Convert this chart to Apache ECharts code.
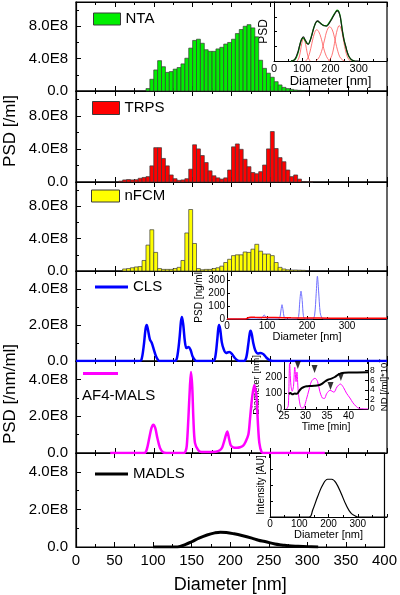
<!DOCTYPE html>
<html><head><meta charset="utf-8">
<script src="https://cdn.jsdelivr.net/npm/echarts@6/dist/echarts.min.js"></script>
<style>html,body{margin:0;padding:0;background:#fff}#c{width:400px;height:595px}</style>
</head><body><div id="c"></div>
<script>
// ---------- DATA ----------
const binEdges = [50,55,60,65,70,75,80,85,90,95,100,105,110,115,120,125,130,135,140,145,150,155,160,165,170,175,180,185,190,195,200,205,210,215,220,225,230,235,240,245,250,255,260,265,270,275,280,285,290,295,300,305,310];
// values in units of 1E8 /ml
const ntaValues = [null,null,null,null,null,null,null,null, 0.3,1.45,2.6,3.75,3.0,2.3,2.4,2.7,2.9,3.35, 4.05,5.3,6.25,6.4,5.9,5.1,4.9,4.9,5.2,5.4, 5.8,6.0,6.4,7.1,7.6,8.0,8.2,7.8,6.7,3.8, 2.8,2.2,1.7,1.15,0.75,0.45,0.3,0.2,0.12,0.08, 0.05,null,null,null];
const trpsValues = [null, 0.1,0.25,0.3,0.25,0.28,0.45,0.55,0.65,1.95, 4.15,4.15,2.85,1.95,0.85,0.4,0.2,0.25,0.4,1.55, 4.5,4.0,3.2,2.35,1.35,0.75,0.5,0.35,0.5,1.45, 4.25,4.6,3.95,2.75,1.85,1.15,1.0,1.25,2.05,4.0, 6.1,4.05,2.95,2.45,1.45,0.65,0.85,0.35,0.05,0.03, 0.03,null];
const nfcmValues = [null,null, 0.25,0.3,0.4,0.5,0.55,1.3,3.2,5.1, 2.3,0.3,0.2,0.2,0.2,0.3,0.45,1.3,4.7,7.6, 3.4,0.3,0.15,0.2,0.2,0.3,0.4,0.6,1.05,1.45, 1.9,2.0,2.0,2.35,2.3,2.7,3.3,2.45,2.1,2.1, 1.9,1.05,0.45,0.25,0.15,0.12,0.12,0.1,0.08,null, null,null];
// [diameter nm, PSD in 1E8 /nm/ml]
const clsCurve = [[0,0],[80,0],[84,0.05],[87,0.8],[89.5,1.8],[91,2.0],[92.5,1.75],[95,1.2],[97.5,1.0],[100,0.65],[103,0.25],[106,0.03],[108,0],
  [127,0],[130,0.2],[133,1.2],[135,2.2],[136.3,2.45],[138,2.0],[140,1.1],[142,0.72],[145,0.78],[147.5,0.6],[150,0.25],[153,0.05],[156,0],
  [176,0],[179,0.2],[181.5,1.1],[183,1.8],[184,2.0],[185.5,1.75],[187.5,1.05],[190,0.65],[193,0.45],[197,0.5],[200.5,0.4],[204,0.18],[208,0.03],[211,0],
  [216,0],[219,0.2],[221.5,0.9],[223.5,1.55],[224.6,1.68],[226,1.5],[228,1.0],[230.5,0.6],[234,0.42],[237.5,0.45],[241,0.38],[245,0.18],[249,0.05],[253,0],[400,0]];
const af4Curve = [[44,0],[88,0],[91,0.19],[94.3,0.83],[97,1.35],[99.5,1.54],[102,1.35],[104.6,0.83],[108,0.28],[112,0.04],[116,0],
  [139,0],[141,0.1],[142.5,0.4],[144.5,1.85],[146.5,3.6],[147.9,4.4],[149.5,3.6],[151,1.85],[153,0.55],[157.3,0.15],[161.6,0.05],[170,0.05],[180,0.07],[185,0.15],[188,0.3],[191,0.7],[194.6,1.17],[197,0.75],[199,0.42],[202,0.31],[207,0.28],[211,0.31],[215,0.4],[218,0.6],[221.7,1.0],[223.8,1.85],[226.5,3.0],[229.4,3.7],[231,3.4],[232.4,2.96],[234,1.6],[235.8,0.55],[238.8,0.04],[242,0],[320,0]];
const madlsCurve = [[100,0],[131.6,0],[142.3,0.14],[150,0.28],[159.5,0.47],[170,0.64],[180,0.75],[187.3,0.79],[195,0.77],[205,0.7],[215,0.61],[228,0.47],[236.7,0.36],[245,0.29],[258,0.16],[266.7,0.11],[279.5,0.05],[288,0.04],[301,0.02],[314,0]];
// NTA inset (relative PSD)
const ntaInsetTotal = [[60,0],[70,0.01],[78,0.07],[85,0.16],[90,0.25],[97,0.36],[104,0.41],[110,0.36],[116,0.31],[121,0.28],[127,0.33],[133,0.42],[138,0.51],[143,0.59],[149,0.66],[155,0.68],[162,0.65],[169,0.62],[177,0.6],[186,0.59],[194,0.63],[202,0.69],[208,0.74],[214,0.79],[219,0.83],[224,0.85],[229,0.83],[234,0.76],[238,0.64],[243,0.48],[248,0.35],[254,0.25],[258,0.17],[263,0.1],[269,0.05],[275,0.02],[287,0],[300,0]];
const ntaInsetFit = [[60,0],[75,0.03],[85,0.14],[92,0.28],[98,0.37],[104,0.39],[110,0.35],[116,0.3],[121,0.29],[127,0.34],[133,0.43],[140,0.55],[147,0.64],[154,0.67],[162,0.65],[170,0.62],[178,0.6],[186,0.6],[194,0.64],[202,0.7],[210,0.77],[218,0.83],[224,0.86],[230,0.83],[236,0.72],[242,0.52],[248,0.36],[254,0.24],[260,0.14],[266,0.07],[274,0.02],[285,0]];
const ntaInsetPeak1 = [[82,0],[88,0.05],[93,0.15],[98,0.29],[102,0.36],[105,0.38],[108,0.36],[112,0.28],[117,0.15],[122,0.05],[128,0]];
const ntaInsetPeak2 = [[112,0],[120,0.05],[128,0.17],[136,0.34],[144,0.48],[151,0.53],[158,0.5],[166,0.4],[174,0.25],[182,0.12],[190,0.04],[198,0]];
const ntaInsetPeak3 = [[148,0],[158,0.05],[168,0.16],[178,0.34],[188,0.52],[197,0.58],[206,0.53],[215,0.38],[224,0.2],[233,0.07],[242,0.02],[250,0]];
const ntaInsetPeak4 = [[192,0],[200,0.04],[208,0.15],[216,0.35],[224,0.53],[231,0.6],[238,0.54],[245,0.38],[252,0.2],[259,0.08],[266,0.02],[272,0]];
// CLS inset (ng/ml)
const clsInsetBlue = [[0,0],[84,0],[88,8],[91,26],[93,32],[95,24],[98,8],[102,0],[128,0],[132,10],[135,70],[137.5,112],[140,72],[143,12],[147,0],[175,0],[179,20],[182,140],[185,218],[188,145],[191,25],[195,0],[214,0],[219,30],[223,200],[226,335],[229,220],[233,50],[238,5],[245,0],[400,0]];
const clsInsetRed = [[0,0],[45,0],[50,5],[55,12],[60,14],[70,13],[90,12],[120,11],[160,9],[200,8],[260,6],[330,5],[400,5]];
// AF4 inset: time [min] vs ND (*1E7 /ml) and diameter [nm]
const af4InsetND = [[25.6,0],[26.0,0.7],[26.3,9.5],[26.6,5],[26.9,3.7],[27.2,4.7],[27.5,8.7],[27.8,5.7],[28.0,7.7],[28.3,3.7],[28.7,1.0],[29.1,0.2],[29.6,0.3],[30.2,2.0],[30.8,4.0],[31.4,5.8],[32.2,6.4],[32.8,5.7],[33.3,3.7],[33.9,2.3],[34.4,2.2],[34.9,3.2],[35.7,3.9],[36.6,3.5],[37.3,4.6],[38.1,5.2],[38.8,4.5],[39.5,3.3],[40.3,2.3],[41.0,1.3],[41.8,0.5],[42.5,0.1],[44.5,0]];
const af4InsetDiameter = [[26.1,95],[26.5,100],[27.0,92],[27.5,97],[28.0,95],[28.5,112],[29.0,128],[29.5,136],[30.2,142],[31.0,144],[32.0,145],[33.0,148],[33.8,157],[34.5,172],[35.2,183],[36.0,190],[36.8,200],[37.5,213],[38.3,224],[39.0,227],[40.0,228],[44.5,229]];
const af4InsetMarkers = [[28.2,275],[32.1,250],[35.8,144],[38.2,200]];
// MADLS inset (relative intensity)
const madlsInset = [[0,0],[134,0],[146,0.11],[163,0.32],[180,0.5],[197,0.59],[211,0.59],[226,0.53],[243,0.37],[260,0.19],[277,0.06],[294,0.01],[300,0],[400,0]];

const seriesNames = ['NTA','TRPS','nFCM','CLS','AF4-MALS','MADLS'];

// ---------- LAYOUT ----------
const FF = 'Liberation Sans, Arial, sans-serif';
const panelTop = [2,91,182,271,361,453];
const panelHeight = [89,91,89,90,92,94];
const panelMax = [11,11,11,5,5,5];
const panelInterval = [4,4,4,2,2,2];
const L = 76, R = 13;

const grids = [], xAxes = [], yAxes = [], series = [];
for (let i = 0; i < 6; i++) {
  grids.push({left:L, right:R, top:panelTop[i], height:panelHeight[i], show:true, borderColor:'#000', borderWidth:1.2, containLabel:false});
  const last = i === 5;
  const base = {gridIndex:i, type:'value', min:0, max:400, interval:50,
    axisLine:{show:true, lineStyle:{color:'#000', width:1.2}},
    axisTick:{show:true, inside:true, length:5, lineStyle:{color:'#000', width:1}},
    minorTick:{show:true, splitNumber:2, length:3, lineStyle:{color:'#000', width:1}},
    splitLine:{show:false}, minorSplitLine:{show:false}};
  xAxes.push(Object.assign({}, base, {position:'bottom',
    axisLabel:{show:last, fontSize:15, color:'#000', fontFamily:FF, margin:6},
    name: last ? 'Diameter [nm]' : '', nameLocation:'middle', nameGap:29,
    nameTextStyle:{fontSize:18, color:'#000', fontFamily:FF}}));
  xAxes.push(Object.assign({}, base, {position:'top', axisLabel:{show:false}}));
  yAxes.push({gridIndex:i, type:'value', min:0, max:panelMax[i], interval:panelInterval[i],
    axisLine:{show:true, lineStyle:{color:'#000', width:1.2}},
    axisTick:{show:true, inside:true, length:5, lineStyle:{color:'#000'}},
    minorTick:{show:true, splitNumber:2, length:3, lineStyle:{color:'#000'}},
    splitLine:{show:false},
    axisLabel:{showMaxLabel:false, fontSize:15, color:'#000', fontFamily:FF, margin:8,
      formatter: v => v === 0 ? '0.0' : v.toFixed(1) + 'E8'}});
}

function insetX(gi, min, max, interval, name, labelSize, nameSize, nameGap) {
  return {gridIndex:gi, type:'value', min, max, interval, position:'bottom',
    axisLine:{show:true, onZero:false, lineStyle:{color:'#000', width:1}},
    axisTick:{show:true, inside:true, length:3, lineStyle:{color:'#000'}},
    minorTick:{show:true, splitNumber:2, length:2, lineStyle:{color:'#000'}},
    splitLine:{show:false},
    axisLabel:{showMaxLabel:false, fontSize:labelSize, color:'#000', fontFamily:FF, margin:2},
    name, nameLocation:'middle', nameGap, nameTextStyle:{fontSize:nameSize, color:'#000', fontFamily:FF}};
}
function insetY(gi, min, max, interval, showLabels, name, nameSize, nameGap, pos, labelSize) {
  return {gridIndex:gi, type:'value', min, max, interval, position:pos || 'left',
    axisLine:{show:true, onZero:false, lineStyle:{color:'#000', width:1}},
    axisTick:{show:true, inside:true, length:3, lineStyle:{color:'#000'}},
    splitLine:{show:false},
    axisLabel:{show:showLabels, showMaxLabel:false, showMinLabel:true, hideOverlap:false, fontSize:labelSize || 10, color:'#000', fontFamily:FF, margin:2},
    name, nameLocation:'middle', nameGap, nameRotate:90, nameTextStyle:{fontSize:nameSize, color:'#000', fontFamily:FF}};
}
// grid 6: NTA inset, 7: CLS inset, 8: AF4 inset, 9: MADLS inset
grids.push({left:274, right:R, top:2, height:59});
grids.push({left:227, right:R, top:273, height:46});
grids.push({left:284, right:32, top:361, height:48});
grids.push({left:270, right:R, top:453, height:64});
xAxes.push(insetX(6, 0, 400, 100, 'Diameter [nm]', 11, 13, 12));   // 12
xAxes.push(insetX(7, 0, 400, 100, 'Diameter [nm]', 10, 11, 12));   // 13
xAxes.push(insetX(8, 25, 44.5, 5, 'Time [min]', 10, 10.5, 11));    // 14
xAxes.push(insetX(9, 0, 400, 100, 'Diameter [nm]', 10, 11, 11));   // 15
yAxes.push(insetY(6, 0, 1, 0.25, false, 'PSD', 12, 4));            // 6
yAxes.push(insetY(7, 0, 360, 100, true, 'PSD [ng/ml]', 10, 17));   // 7
yAxes.push(insetY(8, 0, 300, 100, true, 'Diameter [nm]', 9.5, 17)); // 8
const af4Right = insetY(8, 0, 10, 2, true, '{a|ND [/ml]*10}{b|7}', 9.5, 10, 'right', 8.5); // 9
af4Right.nameTextStyle.rich = {a:{fontSize:9.5, fontFamily:FF, color:'#000'}, b:{fontSize:7, fontFamily:FF, color:'#000', verticalAlign:'top', padding:[0,0,5,0]}};
yAxes.push(af4Right);
yAxes.push(insetY(9, 0, 1, 0.25, false, 'Intensity [AU]', 10, 4)); // 10

// ---------- SERIES ----------
function barSeries(name, vals, xi, yi, color) {
  const data = [];
  vals.forEach((v, k) => { if (v != null) data.push([binEdges[k], binEdges[k+1], v]); });
  return {type:'custom', name, xAxisIndex:xi, yAxisIndex:yi, itemStyle:{color}, encode:{x:[0,1], y:2}, data,
    renderItem: (params, api) => {
      const p0 = api.coord([api.value(0), api.value(2)]);
      const p1 = api.coord([api.value(1), 0]);
      return {type:'rect', shape:{x:p0[0], y:p0[1], width:p1[0]-p0[0], height:p1[1]-p0[1]},
        style:{fill:color, stroke:'#3a3a3a', lineWidth:0.7}};
    }};
}
series.push(barSeries('NTA', ntaValues, 0, 0, '#00ee00'));
series.push(barSeries('TRPS', trpsValues, 2, 1, '#ff0000'));
series.push(barSeries('nFCM', nfcmValues, 4, 2, '#ffff00'));
function lineSeries(name, data, xi, yi, color, width, smooth, z) {
  return {type:'line', name, data, xAxisIndex:xi, yAxisIndex:yi, showSymbol:false, symbol:'none',
    smooth: smooth, color, lineStyle:{color, width}, itemStyle:{color}, z: z || 2, animation:false};
}
series.push(lineSeries('CLS', clsCurve, 6, 3, '#0000ff', 2.5, 0.3));
series.push(lineSeries('AF4-MALS', af4Curve, 8, 4, '#ff00ff', 2.5, 0.3));
series.push(lineSeries('MADLS', madlsCurve, 10, 5, '#000000', 3, 0.4));
// insets
series.push(lineSeries('nta-p1', ntaInsetPeak1, 12, 6, '#ff5050', 0.8, 0.4));
series.push(lineSeries('nta-p2', ntaInsetPeak2, 12, 6, '#ff5050', 0.8, 0.4));
series.push(lineSeries('nta-p3', ntaInsetPeak3, 12, 6, '#ff5050', 0.8, 0.4));
series.push(lineSeries('nta-p4', ntaInsetPeak4, 12, 6, '#ff5050', 0.8, 0.4));
series.push(lineSeries('nta-fit', ntaInsetFit, 12, 6, '#00b000', 1.3, 0.4));
series.push(lineSeries('nta-total', ntaInsetTotal, 12, 6, '#1a1a1a', 1.1, 0.4, 3));
series.push(lineSeries('cls-blue', clsInsetBlue, 13, 7, '#6f6fff', 1, 0.3));
series.push(lineSeries('cls-red', clsInsetRed, 13, 7, '#ff0000', 1.5, 0.2));
series.push(lineSeries('af4-nd', af4InsetND, 14, 9, '#ff00ff', 1, 0.3));
series.push(lineSeries('af4-d', af4InsetDiameter, 14, 8, '#000000', 2, 0.3));
series.push({type:'scatter', name:'af4-peaks', data:af4InsetMarkers, xAxisIndex:14, yAxisIndex:8,
  symbol:'triangle', symbolRotate:180, symbolSize:[6,8], itemStyle:{color:'#000'}, z:5});
series.push(lineSeries('madls-inset', madlsInset, 15, 10, '#000000', 1.2, 0.4));

// ---------- LEGENDS ----------
const lt = {fontSize:15, color:'#000', fontFamily:FF, lineHeight:18};
const legends = [
  {data:[{name:'NTA', icon:'rect', itemStyle:{color:'#00ee00', borderColor:'#3a3a3a', borderWidth:1}}], left:93, top:10, itemWidth:27, itemHeight:12},
  {data:[{name:'TRPS', icon:'rect', itemStyle:{color:'#ff0000', borderColor:'#3a3a3a', borderWidth:1}}], left:92, top:99, itemWidth:27, itemHeight:13},
  {data:[{name:'nFCM', icon:'rect', itemStyle:{color:'#ffff00', borderColor:'#3a3a3a', borderWidth:1}}], left:91, top:187, itemWidth:28, itemHeight:12},
  {data:[{name:'CLS', icon:'rect'}], left:95, top:278, itemWidth:33, itemHeight:3},
  {data:[{name:'AF4-MALS', icon:'rect'}], left:83, top:372, itemWidth:35, itemHeight:3, formatter:() => ''},
  {data:[{name:'MADLS', icon:'rect'}], left:95, top:465, itemWidth:33, itemHeight:3}
].map(l => Object.assign({padding:0, itemGap:0, textStyle:lt, selectedMode:false, orient:'horizontal'}, l));

const option = {
  animation:false,
  backgroundColor:'#fff',
  textStyle:{fontFamily:FF, color:'#000'},
  grid:grids, xAxis:xAxes, yAxis:yAxes, series, legend:legends,
  graphic:[
    {type:'text', x:10, y:131, rotation:Math.PI/2, style:{text:'PSD [/ml]', fontSize:17, fontFamily:FF, fill:'#000', align:'center', verticalAlign:'middle'}},
    {type:'text', x:10, y:394, rotation:Math.PI/2, style:{text:'PSD [/nm/ml]', fontSize:17, fontFamily:FF, fill:'#000', align:'center', verticalAlign:'middle'}},
    {type:'text', x:82, y:396, style:{text:'AF4-MALS', fontSize:15, fontFamily:FF, fill:'#000', align:'left', verticalAlign:'middle'}}
  ]
};
const chart = echarts.init(document.getElementById('c'), null, {width:400, height:595});
chart.setOption(option);
</script>
</body></html>
